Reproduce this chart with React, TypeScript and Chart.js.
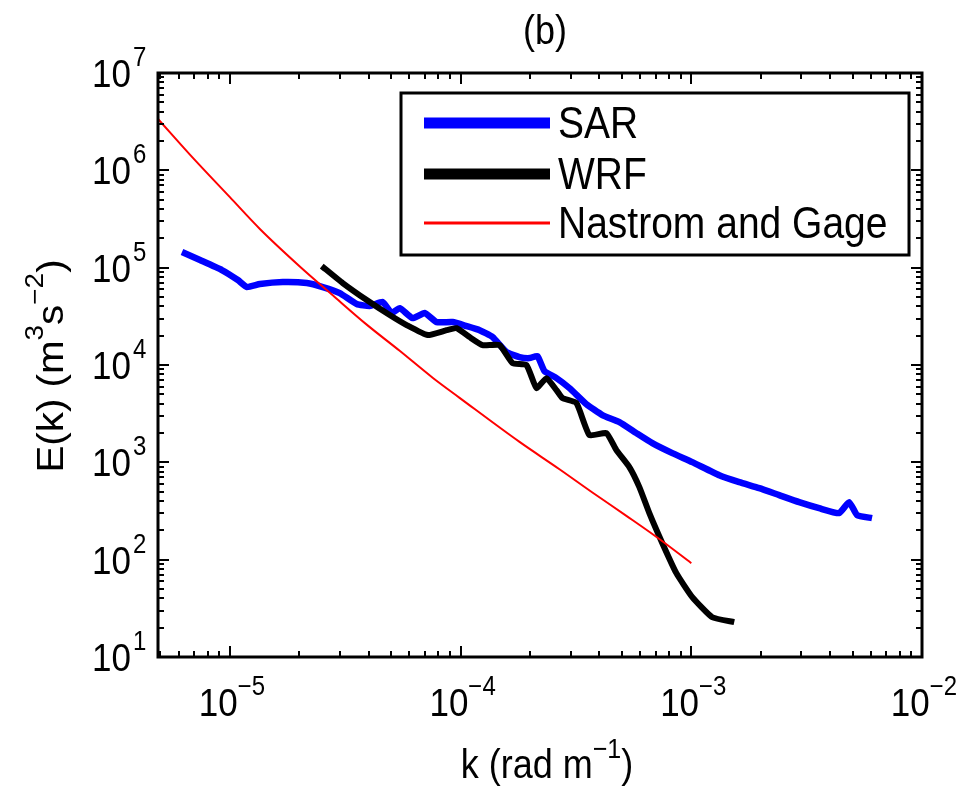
import React, { useEffect, useRef } from 'react';
import { Chart, registerables } from 'chart.js';

Chart.register(...registerables);

// ---------- data ----------
const seriesLabels = ['SAR', 'WRF', 'Nastrom and Gage'];

const sarK = [6.20e-6, 7.42e-6, 9.23e-6, 1.083e-5, 1.185e-5, 1.349e-5, 1.696e-5, 2.154e-5, 2.527e-5, 2.994e-5,
  3.546e-5, 4.037e-5, 4.596e-5, 5.027e-5, 5.445e-5, 6.198e-5, 6.985e-5, 7.872e-5, 9.235e-5, 1.062e-4,
  1.209e-4, 1.376e-4, 1.582e-4, 1.801e-4, 1.990e-4, 2.154e-4, 2.310e-4, 2.604e-4, 2.965e-4, 3.512e-4,
  4.118e-4, 4.879e-4, 5.781e-4, 6.781e-4, 8.275e-4, 1.010e-3, 1.322e-3, 1.614e-3, 1.970e-3, 2.404e-3,
  2.934e-3, 3.582e-3, 4.372e-3, 4.831e-3, 5.231e-3, 6.072e-3];
const sarE = [1.446e5, 1.197e5, 9.45e4, 7.46e4, 6.32e4, 6.78e4, 7.11e4, 6.95e4, 6.32e4, 5.48e4,
  4.23e4, 4.03e4, 4.43e4, 3.42e4, 3.84e4, 3.03e4, 3.42e4, 2.76e4, 2.76e4, 2.51e4,
  2.28e4, 1.935e4, 1.357e4, 1.206e4, 1.177e4, 1.234e4, 8.65e3, 7.33e3, 5.79e3, 3.96e3,
  3.06e3, 2.59e3, 1.996e3, 1.575e3, 1.243e3, 1.005e3, 738, 626, 543, 460,
  390, 338, 301, 390, 287, 267];

const wrfK = [2.502e-5, 3.084e-5, 3.918e-5, 4.928e-5, 5.836e-5, 7.197e-5, 8.699e-5, 9.61e-5, 1.094e-4, 1.245e-4,
  1.475e-4, 1.680e-4, 1.931e-4, 2.133e-4, 2.357e-4, 2.604e-4, 2.764e-4, 3.178e-4, 3.618e-4, 4.285e-4,
  4.735e-4, 5.390e-4, 5.956e-4, 6.579e-4, 7.490e-4, 8.615e-4, 1.010e-3, 1.233e-3, 1.535e-3];
const wrfE = [1.039e5, 6.95e4, 4.65e4, 3.26e4, 2.57e4, 2.03e4, 2.28e4, 2.39e4, 1.935e4, 1.601e4,
  1.601e4, 1.046e4, 9.98e3, 5.79e3, 7.33e3, 5.52e3, 4.57e3, 4.06e3, 1.903e3, 1.996e3,
  1.335e3, 893, 556, 300.6, 147.8, 72.7, 41.2, 25.6, 22.8];

const ngK = [4.88e-6, 6.71e-6, 1e-5, 1.349e-5, 2.009e-5, 2.792e-5, 3.918e-5, 5.445e-5, 7.565e-5, 9.90e-5,
  1.801e-4, 2.683e-4, 3.727e-4, 5.232e-4, 7.268e-4, 1e-3];
const ngE = [3.37e6, 1.45e6, 5.3e5, 2.5e5, 1.03e5, 5.2e4, 2.6e4, 1.4e4, 7.4e3, 4.6e3,
  1.62e3, 850, 490, 282, 163, 92];

const xTickExponents = [-5, -4, -3, -2];
const yTickExponents = [1, 2, 3, 4, 5, 6, 7];
const xMin = 4.88e-6;
const xMax = 1e-2;
const yMin = 10;
const yMax = 1e7;
const titleText = '(b)';
const xLabelParts = ['k (rad m', '−1', ')'];
const yLabelParts = ['E(k) (m', '3', 's', '−2', ')'];

// ---------- styling ----------
const FONT = '"Liberation Sans", Arial, Helvetica, sans-serif';
const S = 1.12; // vertical stretch of the text in the reference
const colors = ['#0000ff', '#000000', '#ff0000'];
const widths = [6.5, 6, 2];
const legendWidths = [11, 11, 3];

function stretchedText(ctx: CanvasRenderingContext2D, text: string, x: number, y: number, size: number, align: CanvasTextAlign) {
  ctx.save();
  ctx.font = `${size}px ${FONT}`;
  ctx.textAlign = align;
  ctx.textBaseline = 'alphabetic';
  ctx.translate(x, y);
  ctx.scale(1, S);
  ctx.fillText(text, 0, 0);
  ctx.restore();
}

function widthOf(ctx: CanvasRenderingContext2D, text: string, size: number) {
  ctx.save();
  ctx.font = `${size}px ${FONT}`;
  const w = ctx.measureText(text).width;
  ctx.restore();
  return w;
}

function partsWidth(ctx: CanvasRenderingContext2D, parts: string[], big: number, small: number) {
  return parts.reduce((s, p, i) => s + widthOf(ctx, p, i % 2 === 0 ? big : small), 0);
}

const decorPlugin = {
  id: 'decor',
  afterDraw(chart: any) {
    const ctx: CanvasRenderingContext2D = chart.ctx;
    const xs = chart.scales.x;
    const ys = chart.scales.y;
    const { left, right, top, bottom } = chart.chartArea;
    ctx.save();
    ctx.fillStyle = '#000';
    ctx.strokeStyle = '#000';

    // minor/major ticks on all four sides
    ctx.lineWidth = 2;
    ctx.beginPath();
    for (let d = -6; d <= -2; d++) {
      for (let m = 1; m <= 9; m++) {
        const v = m * Math.pow(10, d);
        if (v < xMin * 0.999 || v > xMax * 1.001) continue;
        const p = Math.round(xs.getPixelForValue(v));
        const len = m === 1 ? 11 : 6;
        ctx.moveTo(p, bottom); ctx.lineTo(p, bottom - len);
        ctx.moveTo(p, top); ctx.lineTo(p, top + len);
      }
    }
    for (let d = 1; d <= 7; d++) {
      for (let m = 1; m <= 9; m++) {
        const v = m * Math.pow(10, d);
        if (v < yMin * 0.999 || v > yMax * 1.001) continue;
        const p = Math.round(ys.getPixelForValue(v));
        const len = m === 1 ? 11 : 6;
        ctx.moveTo(left, p); ctx.lineTo(left + len, p);
        ctx.moveTo(right, p); ctx.lineTo(right - len, p);
      }
    }
    ctx.stroke();

    // frame
    ctx.lineWidth = 3;
    ctx.strokeRect(left, top, right - left, bottom - top);

    // x tick labels
    const big = 35, sup = 24;
    xTickExponents.forEach((e) => {
      const p = xs.getPixelForValue(Math.pow(10, e));
      const exp = e < 0 ? '−' + Math.abs(e) : String(e);
      const w1 = widthOf(ctx, '10', big);
      const w2 = widthOf(ctx, exp, sup);
      const x0 = p - (w1 + w2) / 2 + 2;
      stretchedText(ctx, '10', x0, 716, big, 'left');
      stretchedText(ctx, exp, x0 + w1, 695, sup, 'left');
    });

    // y tick labels
    yTickExponents.forEach((e) => {
      const p = ys.getPixelForValue(Math.pow(10, e));
      stretchedText(ctx, '10', 131, p + 14, big, 'right');
      stretchedText(ctx, String(e), 133, p - 7, sup, 'left');
    });

    // title
    stretchedText(ctx, titleText, (left + right) / 2 + 5, 44, 36, 'center');

    // x axis label
    {
      const bigL = 36, supL = 25;
      const tw = partsWidth(ctx, xLabelParts, bigL, supL);
      let x = 547 - tw / 2;
      xLabelParts.forEach((p, i) => {
        const isSup = i % 2 === 1;
        stretchedText(ctx, p, x, isSup ? 758 : 778, isSup ? supL : bigL, 'left');
        x += widthOf(ctx, p, isSup ? supL : bigL);
      });
    }

    // y axis label (rotated)
    {
      const bigL = 36, supL = 25;
      const tw = partsWidth(ctx, yLabelParts, bigL, supL) * S;
      ctx.save();
      ctx.translate(63, 366);
      ctx.rotate(-Math.PI / 2);
      let x = -tw / 2;
      yLabelParts.forEach((p, i) => {
        const isSup = i % 2 === 1;
        const size = isSup ? supL : bigL;
        ctx.save();
        ctx.font = `${size}px ${FONT}`;
        ctx.textAlign = 'left';
        ctx.textBaseline = 'alphabetic';
        ctx.translate(x, isSup ? -20 : 0);
        ctx.scale(S, 1);
        ctx.fillText(p, 0, 0);
        ctx.restore();
        x += widthOf(ctx, p, size) * S;
      });
      ctx.restore();
    }

    // legend
    {
      const bx = 401, by = 93, bw = 508, bh = 162;
      ctx.fillStyle = '#fff';
      ctx.fillRect(bx, by, bw, bh);
      ctx.lineWidth = 3;
      ctx.strokeStyle = '#000';
      ctx.strokeRect(bx, by, bw, bh);
      const rows = [123, 174, 223];
      chart.data.datasets.forEach((ds: any, i: number) => {
        ctx.strokeStyle = ds.borderColor;
        ctx.lineWidth = legendWidths[i];
        ctx.beginPath();
        ctx.moveTo(424, rows[i]);
        ctx.lineTo(550, rows[i]);
        ctx.stroke();
        ctx.fillStyle = '#000';
        stretchedText(ctx, ds.label, 558, rows[i] + 15, 39, 'left');
      });
    }
    ctx.restore();
  },
};

export default function App() {
  const ref = useRef<HTMLCanvasElement | null>(null);
  useEffect(() => {
    if (!ref.current) return;
    const mk = (k: number[], e: number[]) => k.map((x, i) => ({ x, y: e[i] }));
    const datasets = [mk(sarK, sarE), mk(wrfK, wrfE), mk(ngK, ngE)].map((data, i) => ({
      label: seriesLabels[i],
      data,
      borderColor: colors[i],
      backgroundColor: colors[i],
      borderWidth: widths[i],
      pointRadius: 0,
      tension: i === 2 ? 0.4 : 0.15,
      cubicInterpolationMode: i === 2 ? ('monotone' as const) : ('default' as const),
      fill: false,
      borderJoinStyle: 'round' as const,
      order: 3 - i,
    }));
    const chart = new Chart(ref.current, {
      type: 'line',
      data: { datasets },
      options: {
        animation: false,
        responsive: false,
        devicePixelRatio: 1,
        layout: { padding: { left: 158, top: 73, right: 53, bottom: 131 } },
        scales: {
          x: { type: 'logarithmic', min: xMin, max: xMax, display: false },
          y: { type: 'logarithmic', min: yMin, max: yMax, display: false },
        },
        plugins: { legend: { display: false }, title: { display: false }, tooltip: { enabled: false } },
      },
      plugins: [decorPlugin],
    });
    return () => chart.destroy();
  }, []);
  return (
    <div style={{ position: 'absolute', left: 0, top: 0, width: 975, height: 788, background: '#fff' }}>
      <canvas ref={ref} width={975} height={788} style={{ display: 'block' }} />
    </div>
  );
}
